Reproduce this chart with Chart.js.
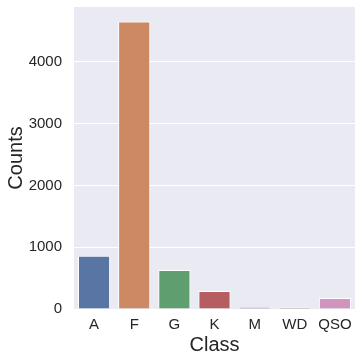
<!DOCTYPE html>
<html>
<head>
<meta charset="utf-8">
<script src="https://cdn.jsdelivr.net/npm/chart.js@4/dist/chart.umd.min.js"></script>
<style>
  html, body { margin: 0; padding: 0; background: #fff; }
  #wrap { width: 362px; height: 362px; }
</style>
</head>
<body>
<div id="wrap"><canvas id="chartClass" width="362" height="362"></canvas></div>
<script>
const CLASSES = ['A', 'F', 'G', 'K', 'M', 'WD', 'QSO'];
const COUNTS = [860, 4655, 632, 292, 30, 25, 178];
const BAR_COLORS = ['#5975a4', '#cc8963', '#5f9e6e', '#b55d60', '#857aab', '#8d7866', '#d095bf'];
const Y_TICKS = [0, 1000, 2000, 3000, 4000];
const Y_MAX = 4888;

const TEXT = '#262626';
const FONT = "'Liberation Sans', Arial, sans-serif";

// paint the grey plot area like seaborn darkgrid
const plotBg = {
  id: 'plotBg',
  beforeDraw(chart) {
    const { ctx, chartArea: a } = chart;
    ctx.save();
    ctx.fillStyle = '#eaeaf2';
    ctx.fillRect(a.left, a.top, a.right - a.left, a.bottom - a.top);
    ctx.restore();
  }
};

function noEdgePad(s) {
  s.paddingTop = 0;
  s.paddingBottom = 0;
  s.paddingLeft = 0;
  s.paddingRight = 0;
}

new Chart(document.getElementById('chartClass'), {
  type: 'bar',
  data: {
    labels: CLASSES,
    datasets: [{
      data: COUNTS,
      backgroundColor: BAR_COLORS,
      borderColor: '#ffffff',
      borderWidth: 1,
      barPercentage: 0.8,
      categoryPercentage: 1.0
    }]
  },
  options: {
    responsive: false,
    animation: false,
    devicePixelRatio: 1,
    layout: { padding: { top: 7, right: 7, left: 0, bottom: 0 } },
    plugins: { legend: { display: false }, tooltip: { enabled: false } },
    scales: {
      x: {
        grid: { display: false, drawTicks: false },
        border: { display: false },
        ticks: { color: TEXT, font: { family: FONT, size: 15 }, padding: 7, maxRotation: 0 },
        title: { display: true, text: 'Class', color: TEXT, font: { family: FONT, size: 20 }, padding: { top: 0, bottom: 5 } },
        afterFit: s => { s.height = 53; noEdgePad(s); }
      },
      y: {
        min: 0,
        max: Y_MAX,
        afterBuildTicks: s => { s.ticks = Y_TICKS.map(v => ({ value: v })); },
        grid: { color: '#ffffff', lineWidth: 1, drawTicks: false },
        border: { display: false },
        ticks: { color: TEXT, font: { family: FONT, size: 15 }, padding: 12, callback: v => String(v) },
        title: { display: true, text: 'Counts', color: TEXT, font: { family: FONT, size: 20 }, padding: { top: 4, bottom: 0 } },
        afterFit: s => { s.width = 74; noEdgePad(s); }
      }
    }
  },
  plugins: [plotBg]
});
</script>
</body>
</html>
